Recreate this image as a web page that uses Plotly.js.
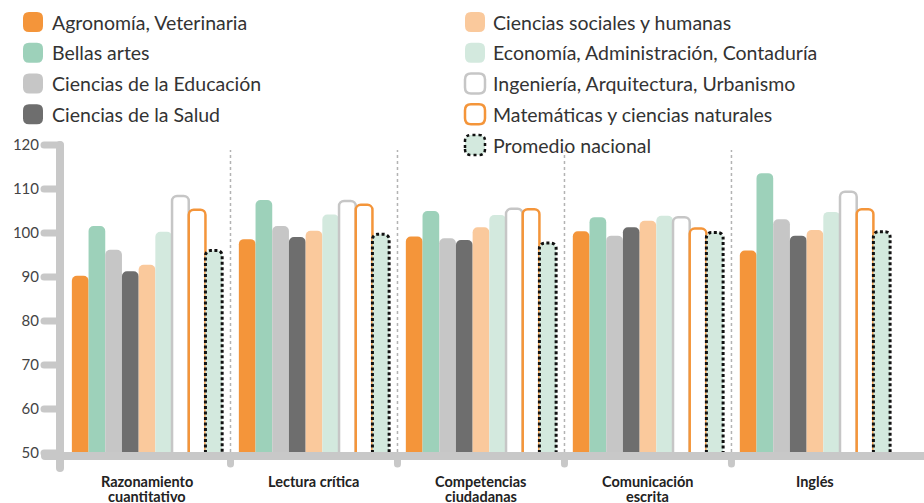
<!DOCTYPE html>
<html><head><meta charset="utf-8">
<script src="https://cdn.plot.ly/plotly-3.0.1.min.js"></script>
<style>html,body{margin:0;padding:0;background:#fff}#chart{width:924px;height:503px}</style>
</head><body><div id="chart"></div>
<script>
// ---- data ----
const categories = ['Razonamiento<br>cuantitativo', 'Lectura crítica', 'Competencias<br>ciudadanas', 'Comunicación<br>escrita', 'Inglés'];
const seriesNames = ['Agronomía, Veterinaria', 'Bellas artes', 'Ciencias de la Educación', 'Ciencias de la Salud',
  'Ciencias sociales y humanas', 'Economía, Administración, Contaduría', 'Ingeniería, Arquitectura, Urbanismo',
  'Matemáticas y ciencias naturales', 'Promedio nacional'];
const agronomia   = [90.3, 98.6, 99.2, 100.4, 96.0];
const bellasArtes = [101.6, 107.5, 105.0, 103.6, 113.6];
const educacion   = [96.2, 101.6, 98.8, 99.4, 103.1];
const salud       = [91.3, 99.1, 98.4, 101.3, 99.4];
const sociales    = [92.8, 100.5, 101.3, 102.8, 100.7];
const economia    = [100.3, 104.2, 104.1, 103.9, 104.8];
const ingenieria  = [108.4, 107.3, 105.5, 103.6, 109.4];
const matematicas = [105.3, 106.4, 105.4, 101.0, 105.4];
const promedio    = [96.0, 99.7, 97.7, 100.1, 100.3];
const yTicks = [50, 60, 70, 80, 90, 100, 110, 120];

// ---- styles ----
const seriesValues = [agronomia, bellasArtes, educacion, salud, sociales, economia, ingenieria, matematicas, promedio];
const fills = ['#f4953a', '#9dd1ba', '#c6c6c6', '#6e6e6e', '#fac99c', '#d3e9de', '#ffffff', '#ffffff', '#d3e9de'];
const lines = [null, null, null, null, null, null, '#c6c6c6', '#f4953a', '#111111'];
const lineW = [0, 0, 0, 0, 0, 0, 2.5, 2.5, 3];
const legendCol = [0, 0, 0, 0, 1, 1, 1, 1, 1];
const legendRow = [0, 1, 2, 3, 0, 1, 2, 3, 4];

const W = 924, H = 503, M = {l: 60, r: 0, t: 145, b: 50};
const plotW = W - M.l - M.r, plotH = H - M.t - M.b;
const XR = [-0.521, 4.653], YR = [50, 120];
const xp = px => (px - M.l) / plotW;
const yp = py => (H - M.b - py) / plotH;
const xc = c => (c - XR[0]) / (XR[1] - XR[0]);
const yv = v => (v - YR[0]) / (YR[1] - YR[0]);
const AX = '#c8c8c8';
const FONT = 'Lato, "Open Sans", sans-serif';

const data = seriesNames.map((n, i) => ({
  type: 'bar', name: n, x: categories, y: seriesValues[i], showlegend: false,
  marker: {color: fills[i], line: {color: lines[i] || fills[i], width: lineW[i]}},
  hoverinfo: 'skip'
}));

const shapes = [];
shapes.push({type: 'line', xref: 'paper', yref: 'paper', x0: 0, x1: 0, y0: yp(468), y1: yv(120), line: {color: AX, width: 8}});
shapes.push({type: 'line', xref: 'paper', yref: 'paper', x0: xp(45), x1: xp(935), y0: yp(456), y1: yp(456), line: {color: AX, width: 8}});
yTicks.forEach(v => shapes.push({type: 'line', xref: 'paper', yref: 'paper', x0: xp(44), x1: 0, y0: yv(v), y1: yv(v), line: {color: AX, width: 7}}));
for (let i = 0; i < categories.length - 1; i++) {
  const x = xc(i + 0.5);
  shapes.push({type: 'line', xref: 'paper', yref: 'paper', x0: x, x1: x, y0: yp(452), y1: yp(150), line: {color: '#b3b3b3', width: 1.5, dash: 'dot'}});
  shapes.push({type: 'line', xref: 'paper', yref: 'paper', x0: x, x1: x, y0: yp(456), y1: yp(464), line: {color: AX, width: 7}});
}

// manual legend (swatches + text)
const annotations = [];
const legSwatchX = [33, 475], legTextX = [50, 491], legRow0 = 22, legStep = 30.75;
const rr = 'M-10,-4 Q-10,-10 -4,-10 H4 Q10,-10 10,-4 V4 Q10,10 4,10 H-4 Q-10,10 -10,4 Z';
seriesNames.forEach((n, i) => {
  const cy = legRow0 + legendRow[i] * legStep;
  shapes.push({type: 'path', xref: 'paper', yref: 'paper', xsizemode: 'pixel', ysizemode: 'pixel',
    xanchor: xp(legSwatchX[legendCol[i]]), yanchor: yp(cy), path: rr, fillcolor: fills[i],
    line: {color: lines[i] || 'rgba(0,0,0,0)', width: lines[i] ? 2.5 : 0, dash: i === 8 ? 'dot' : 'solid'}});
  annotations.push({xref: 'paper', yref: 'paper', x: xp(legTextX[legendCol[i]]), y: yp(cy), xanchor: 'left', yanchor: 'middle',
    text: n, showarrow: false, font: {family: FONT, size: 19.5, color: '#333'}});
});

// category labels, one annotation per line (tight line spacing as in the original)
const catLineY = [481, 496];
categories.forEach((c, i) => {
  c.split('<br>').forEach((t, k) => annotations.push({xref: 'x', yref: 'paper', x: i, y: yp(catLineY[k]),
    xanchor: 'center', yanchor: 'middle', text: t, showarrow: false, borderpad: 0,
    font: {family: FONT, size: 14.5, color: '#222', weight: 'bold'}}));
});

const layout = {
  width: W, height: H, margin: M, paper_bgcolor: '#fff', plot_bgcolor: '#fff',
  barmode: 'group', bargap: 0.1, bargroupgap: 0, barcornerradius: 5, showlegend: false,
  xaxis: {type: 'category', range: XR, showgrid: false, zeroline: false, showline: false, ticks: '',
    showticklabels: false, fixedrange: true},
  yaxis: {range: YR, tickvals: yTicks, showgrid: false, zeroline: false, showline: false, ticks: '',
    tickfont: {family: FONT, size: 15, color: '#444'}, ticklabelstandoff: 20, fixedrange: true},
  shapes: shapes,
  annotations: annotations
};

function fix(gd) {
  gd.querySelectorAll('.shapelayer path').forEach(p => {
    if (parseFloat(p.style.strokeWidth) >= 4) p.style.strokeLinecap = 'round';
  });
  const tr = gd.querySelectorAll('.barlayer .trace');
  if (tr[8]) tr[8].querySelectorAll('path').forEach(p => { p.style.strokeDasharray = '3px,2.5px'; });
}

Plotly.newPlot('chart', data, layout, {displayModeBar: false, staticPlot: true}).then(gd => {
  fix(gd);
  gd.on('plotly_afterplot', () => fix(gd));
});
</script>
</body></html>
